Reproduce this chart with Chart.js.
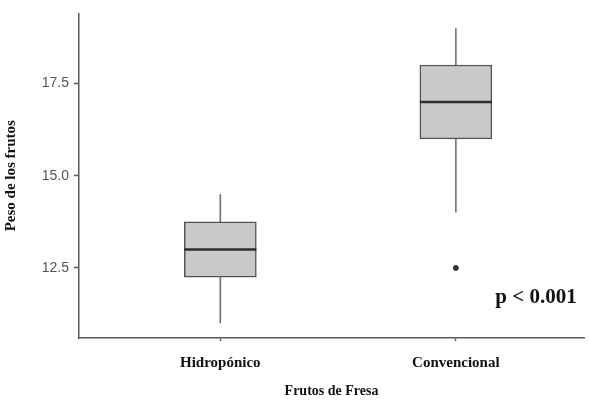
<!DOCTYPE html>
<html>
<head>
<meta charset="utf-8">
<script src="https://cdn.jsdelivr.net/npm/chart.js@4.4.0/dist/chart.umd.min.js"></script>
<style>
  html, body { margin: 0; padding: 0; background: #fff; }
  #wrap { width: 589px; height: 400px; }
</style>
</head>
<body>
<div id="wrap"><canvas id="c" width="589" height="400"></canvas></div>
<script>
// box plot values
const groups = ["Hidropónico", "Convencional"];
const whiskerLow = [11.0, 14.0];
const q1 = [12.25, 16.0];
const median = [13.0, 17.0];
const q3 = [13.75, 18.0];
const whiskerHigh = [14.5, 19.0];
const outlierGroup = [2];
const outlierValue = [12.5];
const yTicks = [12.5, 15.0, 17.5];
const pLabel = "p < 0.001";

const serif = "'Liberation Serif', 'Times New Roman', serif";
const sans = "'Liberation Sans', Arial, sans-serif";
const axisCol = "#5a5a5a";

// whiskers + medians, drawn through the scales
const boxExtras = {
  id: "boxExtras",
  beforeDatasetsDraw(chart){
    const {ctx, scales:{x, y}} = chart;
    ctx.save();
    ctx.strokeStyle = "#707070";
    ctx.lineWidth = 1.6;
    groups.forEach((g,i)=>{
      const px = x.getPixelForValue(i+1);
      ctx.beginPath();
      ctx.moveTo(px, y.getPixelForValue(whiskerLow[i]));
      ctx.lineTo(px, y.getPixelForValue(whiskerHigh[i]));
      ctx.stroke();
    });
    ctx.restore();
  },
  afterDatasetsDraw(chart){
    const {ctx, scales:{x, y}} = chart;
    const meta = chart.getDatasetMeta(0);
    ctx.save();
    ctx.strokeStyle = "#2e2e2e";
    ctx.lineWidth = 2.5;
    meta.data.forEach((bar,i)=>{
      const half = bar.width/2;
      const py = y.getPixelForValue(median[i]);
      ctx.beginPath();
      ctx.moveTo(bar.x - half, py);
      ctx.lineTo(bar.x + half, py);
      ctx.stroke();
    });
    // p value note
    ctx.fillStyle = "#111";
    ctx.font = "bold 21px " + serif;
    ctx.textAlign = "center";
    ctx.textBaseline = "middle";
    ctx.fillText(pLabel, x.getPixelForValue(2.34), y.getPixelForValue(11.7));
    ctx.restore();
  }
};

new Chart(document.getElementById("c"), {
  type: "bar",
  data: {
    datasets: [
      {
        label: "caja",
        data: groups.map((g,i)=>({x: i+1, y: [q1[i], q3[i]]})),
        backgroundColor: "#c9c9c9",
        borderColor: "#555",
        borderWidth: 1.5,
        borderSkipped: false,
        barThickness: 72,
        order: 2
      },
      {
        type: "scatter",
        label: "atípico",
        data: outlierGroup.map((g,i)=>({x: g, y: outlierValue[i]})),
        backgroundColor: "#333",
        borderColor: "#333",
        pointRadius: 2.5,
        order: 1
      }
    ]
  },
  options: {
    responsive: false,
    animation: false,
    layout: { padding: { top: 11, right: 0, left: 0, bottom: 0 } },
    plugins: { legend: { display: false }, tooltip: { enabled: false } },
    scales: {
      x: {
        type: "linear",
        offset: false,
        min: 0.4, max: 2.544,
        afterBuildTicks: s => { s.ticks = groups.map((g,i)=>({value: i+1})); },
        afterFit: s => { s.height = 62; },
        ticks: {
          autoSkip: false, maxRotation: 0, padding: 13,
          color: "#111",
          font: { family: serif, size: 15, weight: "bold" },
          callback: v => groups[v-1]
        },
        grid: { offset: false, drawOnChartArea: false, drawTicks: true, tickLength: 3, color: axisCol, tickWidth: 1.5 },
        border: { display: true, color: axisCol, width: 1.5 },
        title: {
          display: true, text: "Frutos de Fresa", color: "#111",
          font: { family: serif, size: 14, weight: "bold" },
          padding: { top: 9, bottom: 0 }
        }
      },
      y: {
        min: 10.6, max: 19.4,
        afterBuildTicks: s => { s.ticks = yTicks.map(v=>({value: v})); },
        afterFit: s => { s.width = 79; },
        ticks: {
          padding: 5, color: "#555",
          font: { family: sans, size: 14 },
          callback: v => v.toFixed(1)
        },
        grid: { drawOnChartArea: false, drawTicks: true, tickLength: 5, color: axisCol, tickWidth: 1.5 },
        border: { display: true, color: axisCol, width: 1.5 },
        title: {
          display: true, text: "Peso de los frutos", color: "#111",
          font: { family: serif, size: 15, weight: "bold" },
          padding: { top: 2, bottom: 0 }
        }
      }
    }
  },
  plugins: [boxExtras]
});
</script>
</body>
</html>
